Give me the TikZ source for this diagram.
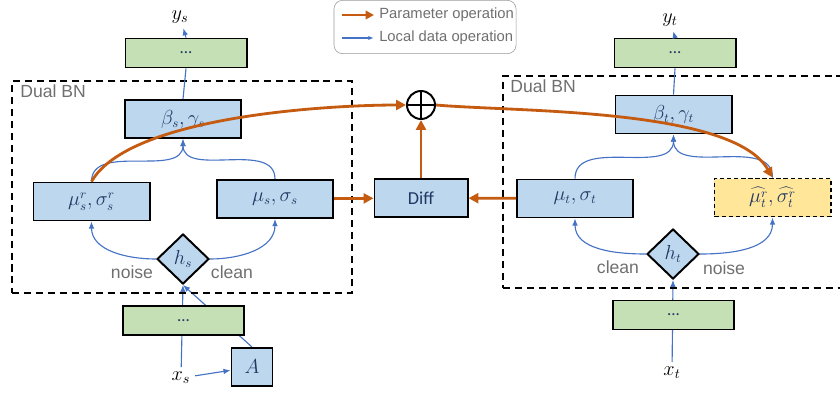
\documentclass[tikz,border=0pt]{standalone}
\usepackage{fontspec}
\setsansfont{Liberation Sans}
\newfontfamily\calib{Carlito}
\usepackage{tikz}
\usetikzlibrary{arrows.meta,positioning,calc,shapes.geometric,backgrounds}
\definecolor{BnBlue}{HTML}{BDD7EE}
\definecolor{BnGreen}{HTML}{C5E0B4}
\definecolor{BnYellow}{HTML}{FFE699}
\definecolor{BnNavy}{HTML}{203864}
\definecolor{BnLine}{HTML}{4472C4}
\definecolor{BnOrange}{HTML}{C55A11}
\definecolor{BnGray}{HTML}{6F6F6F}
\begin{document}
\begin{tikzpicture}[x=0.025cm,y=-0.025cm]
\tikzset{b/.style={fill=BnBlue,draw=black,line width=1.4pt,minimum width=2.9cm,minimum height=.95cm,inner sep=0pt,text=BnNavy,font=\fontsize{13.5}{15}\selectfont},g/.style={b,fill=BnGreen,minimum width=3.025cm,minimum height=.725cm,font=\calib\fontsize{12}{14}\selectfont},h/.style={b,diamond,aspect=1,minimum width=1.3cm,minimum height=1.25cm},d/.style={draw=black,line width=1.3pt,dash pattern=on 5pt off 3.5pt},t/.style={font=\sffamily\fontsize{12.5}{15}\selectfont,text=BnGray},l/.style={BnLine,line width=.8pt,-{Latex[length=5pt,width=4pt]}},p/.style={BnOrange,line width=2pt,-{Triangle[length=7pt,width=7pt]}},lab/.style={font=\fontsize{14}{16}\selectfont}}
\useasboundingbox (0,0) rectangle (840,396);
% legend
\node[draw=BnGray!70,rounded corners=6pt,minimum width=4.55cm,minimum height=1.33cm] (leg) at (425,27) {};
\coordinate (lp0) at (342,15);\coordinate (lp1) at (374,15);
\coordinate (ll0) at (342,38);\coordinate (ll1) at (374,38);
\draw[p,-{Triangle[length=6pt,width=6pt]}] (lp0) -- (lp1);
\draw[l,-{Latex[length=4pt,width=3pt]}] (ll0) -- (ll1);
\node[t,font=\sffamily\fontsize{10.5}{12}\selectfont,anchor=west,inner sep=0pt] at (379,15) {Parameter operation};
\node[t,font=\sffamily\fontsize{10.5}{12}\selectfont,anchor=west,inner sep=0pt] at (379,38) {Local data operation};
% dual BN regions
\node[d,minimum width=8.5cm,minimum height=5.3cm] (dbs) at (182,187) {};
\node[d,minimum width=8.925cm,minimum height=5.3cm] (dbt) at (681.5,182) {};
\node[t,anchor=north west,inner sep=0pt] at ($(dbs.north west)+(9,4)$) {Dual BN};
\node[t,anchor=north west,inner sep=0pt] at ($(dbt.north west)+(8,4)$) {Dual BN};
% source side
\node[lab] (ys) at (180,17) {$y_s$};
\node[g] (gs1) at (186,53) {...};
\node[b] (bs) at (183,119) {$\beta_s,\gamma_s$};
\node[b] (mrs) at (91.5,201.5) {$\mu_s^r,\sigma_s^r$};
\node[b] (ms) at (275,199) {$\mu_s,\sigma_s$};
\node[h] (hs) at (183,259) {$h_s$};
\node[t] at (132,272) {noise};
\node[t] at (232,272) {clean};
\node[g] (gs0) at (183.5,320.5) {...};
\node[lab] (xs) at (181,378) {$x_s$};
\node[b,minimum width=1.025cm] (A) at (252,367) {$A$};
% middle
\node[b,minimum width=2.325cm,font=\calib\fontsize{13}{15}\selectfont] (diff) at (421,198) {Diff};
\node[circle,draw=black,line width=1.4pt,minimum size=.7cm,inner sep=0pt] (sum) at (421,105) {};
\draw[line width=1.4pt] (sum.north) -- (sum.south) (sum.west) -- (sum.east);
% target side
\node[lab] (yt) at (670,20) {$y_t$};
\node[g] (gt1) at (675,53) {...};
\node[b] (bt) at (673.5,114.5) {$\beta_t,\gamma_t$};
\node[b] (mt) at (575,198.5) {$\mu_t,\sigma_t$};
\node[b,fill=BnYellow,dash pattern=on 3pt off 2pt] (mrt) at (772.5,197.5) {$\widehat{\mu_t^r},\widehat{\sigma_t^r}$};
\node[h] (ht) at (673,254) {$h_t$};
\node[t] at (618,267) {clean};
\node[t] at (724,268) {noise};
\node[g] (gt0) at (673.5,315) {...};
\node[lab] (xt) at (672,373) {$x_t$};
% data flow
\begin{scope}[on background layer]
\draw[l] (xs) -- (hs.south);
\draw[l] (A.north) -- (hs.south);
\draw[l] (xt) -- (ht.south);
\end{scope}
\draw[l] (xs) -- (A);
\draw[l] (hs.west) to[out=180,in=-90] (mrs.south);
\draw[l] (hs.east) to[out=0,in=-90] (ms.south);
\draw[l] (mrs.north) to[out=90,in=-90] (bs.south);
\draw[l] (ms.north) to[out=90,in=-90] (bs.south);
\draw[BnLine,line width=.8pt] (bs.north) -- (gs1.south);
\draw[l] (gs1.north) -- (ys);
\draw[l] (ht.west) to[out=180,in=-90] (mt.south);
\draw[l] (ht.east) to[out=0,in=-90] (mrt.south);
\draw[l] (mt.north) to[out=90,in=-90] (bt.south);
\draw[l] (mrt.north) to[out=90,in=-90] (bt.south);
\draw[BnLine,line width=.8pt] (bt.north) -- (gt1.south);
\draw[l] (gt1.north) -- (yt);
% parameter flow
\draw[p] (ms) -- (diff);
\draw[p] (mt) -- (diff);
\draw[p] (diff) -- (sum);
\draw[p] (mrs.north) to[out=60,in=180,looseness=.6] (sum.west);
\draw[p] (sum.east) to[out=-5,in=120,looseness=.6] (mrt.north);
\end{tikzpicture}
\end{document}
